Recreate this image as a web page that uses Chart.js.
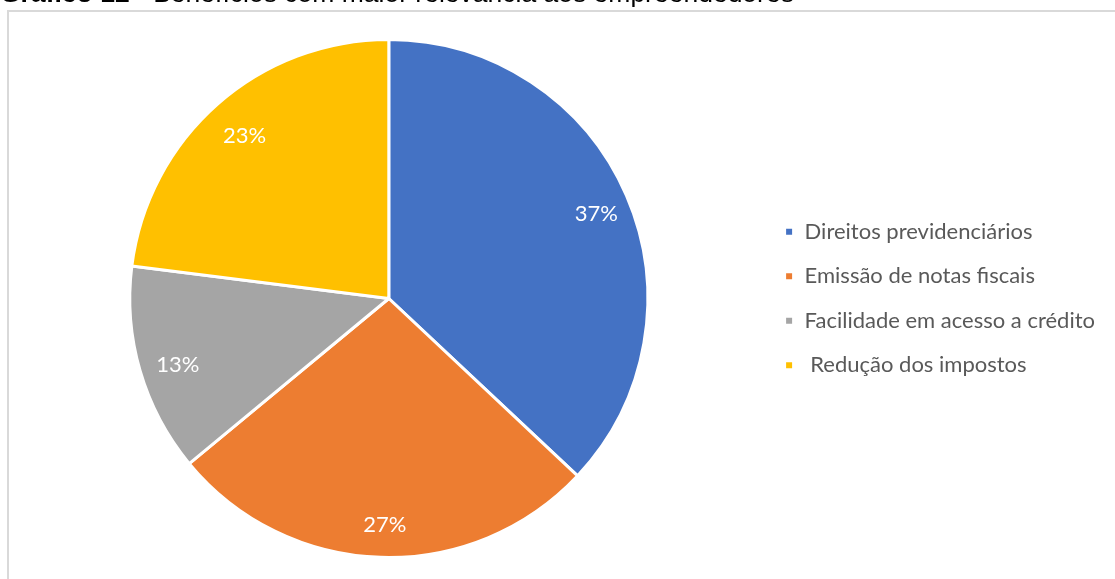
<!DOCTYPE html>
<html>
<head>
<meta charset="utf-8">
<script src="https://cdn.jsdelivr.net/npm/chart.js@4.4.1/dist/chart.umd.min.js"></script>
<style>
  html, body { margin: 0; padding: 0; background: #fff; overflow: hidden; }
  #wrap { position: relative; width: 1115px; height: 579px; overflow: hidden; }
  #title {
    position: absolute; left: 0; top: -20px; z-index: 2;
    font-family: "Liberation Sans", Arial, sans-serif; font-size: 26.5px;
    line-height: 26.5px; white-space: nowrap; color: #000;
  }
  #frame {
    position: absolute; left: 7px; top: 10px; width: 1200px; height: 700px;
    border: 2px solid #d9d9d9; box-sizing: border-box;
  }
  #chart { position: absolute; left: 0; top: 0; }
</style>
</head>
<body>
<div id="wrap">
  <div id="frame"></div>
  <div id="title"><b>Gráfico 12</b> - Benefícios com maior relevância aos empreendedores</div>
  <canvas id="chart" width="1115" height="579"></canvas>
</div>
<script>
const categories = [
  "Direitos previdenciários",
  "Emissão de notas fiscais",
  "Facilidade em acesso a crédito",
  " Redução dos impostos",
];
const percentages = [37, 27, 13, 23];
const sliceColors = ["#4472C4", "#ED7D31", "#A5A5A5", "#FFC000"];

// percentage text inside each slice
const sliceLabels = {
  id: "sliceLabels",
  afterDatasetsDraw(chart) {
    const ctx = chart.ctx;
    const meta = chart.getDatasetMeta(0);
    ctx.save();
    ctx.fillStyle = "#ffffff";
    ctx.font = "22px Lato, sans-serif";
    ctx.textAlign = "center";
    ctx.textBaseline = "middle";
    meta.data.forEach((arc, i) => {
      const { x, y, startAngle, endAngle, outerRadius } = arc.getProps(
        ["x", "y", "startAngle", "endAngle", "outerRadius"], true);
      const mid = (startAngle + endAngle) / 2;
      const r = outerRadius * 0.86;
      ctx.fillText(percentages[i] + "%", x + Math.cos(mid) * r + 3, y + Math.sin(mid) * r + 4);
    });
    ctx.restore();
  },
};

new Chart(document.getElementById("chart"), {
  type: "pie",
  data: {
    labels: categories,
    datasets: [{
      data: percentages,
      backgroundColor: sliceColors,
      borderColor: "#ffffff",
      borderWidth: 3,
    }],
  },
  options: {
    responsive: false,
    animation: false,
    layout: { padding: { top: 38, bottom: 20, left: 15.5, right: 10 } },
    plugins: {
      legend: {
        position: "right",
        labels: {
          boxWidth: 9,
          boxHeight: 9,
          padding: 22.5,
          color: "#595959",
          font: { family: "Lato", size: 22 },
        },
      },
      tooltip: { enabled: false },
    },
  },
  plugins: [sliceLabels],
});
</script>
</body>
</html>
